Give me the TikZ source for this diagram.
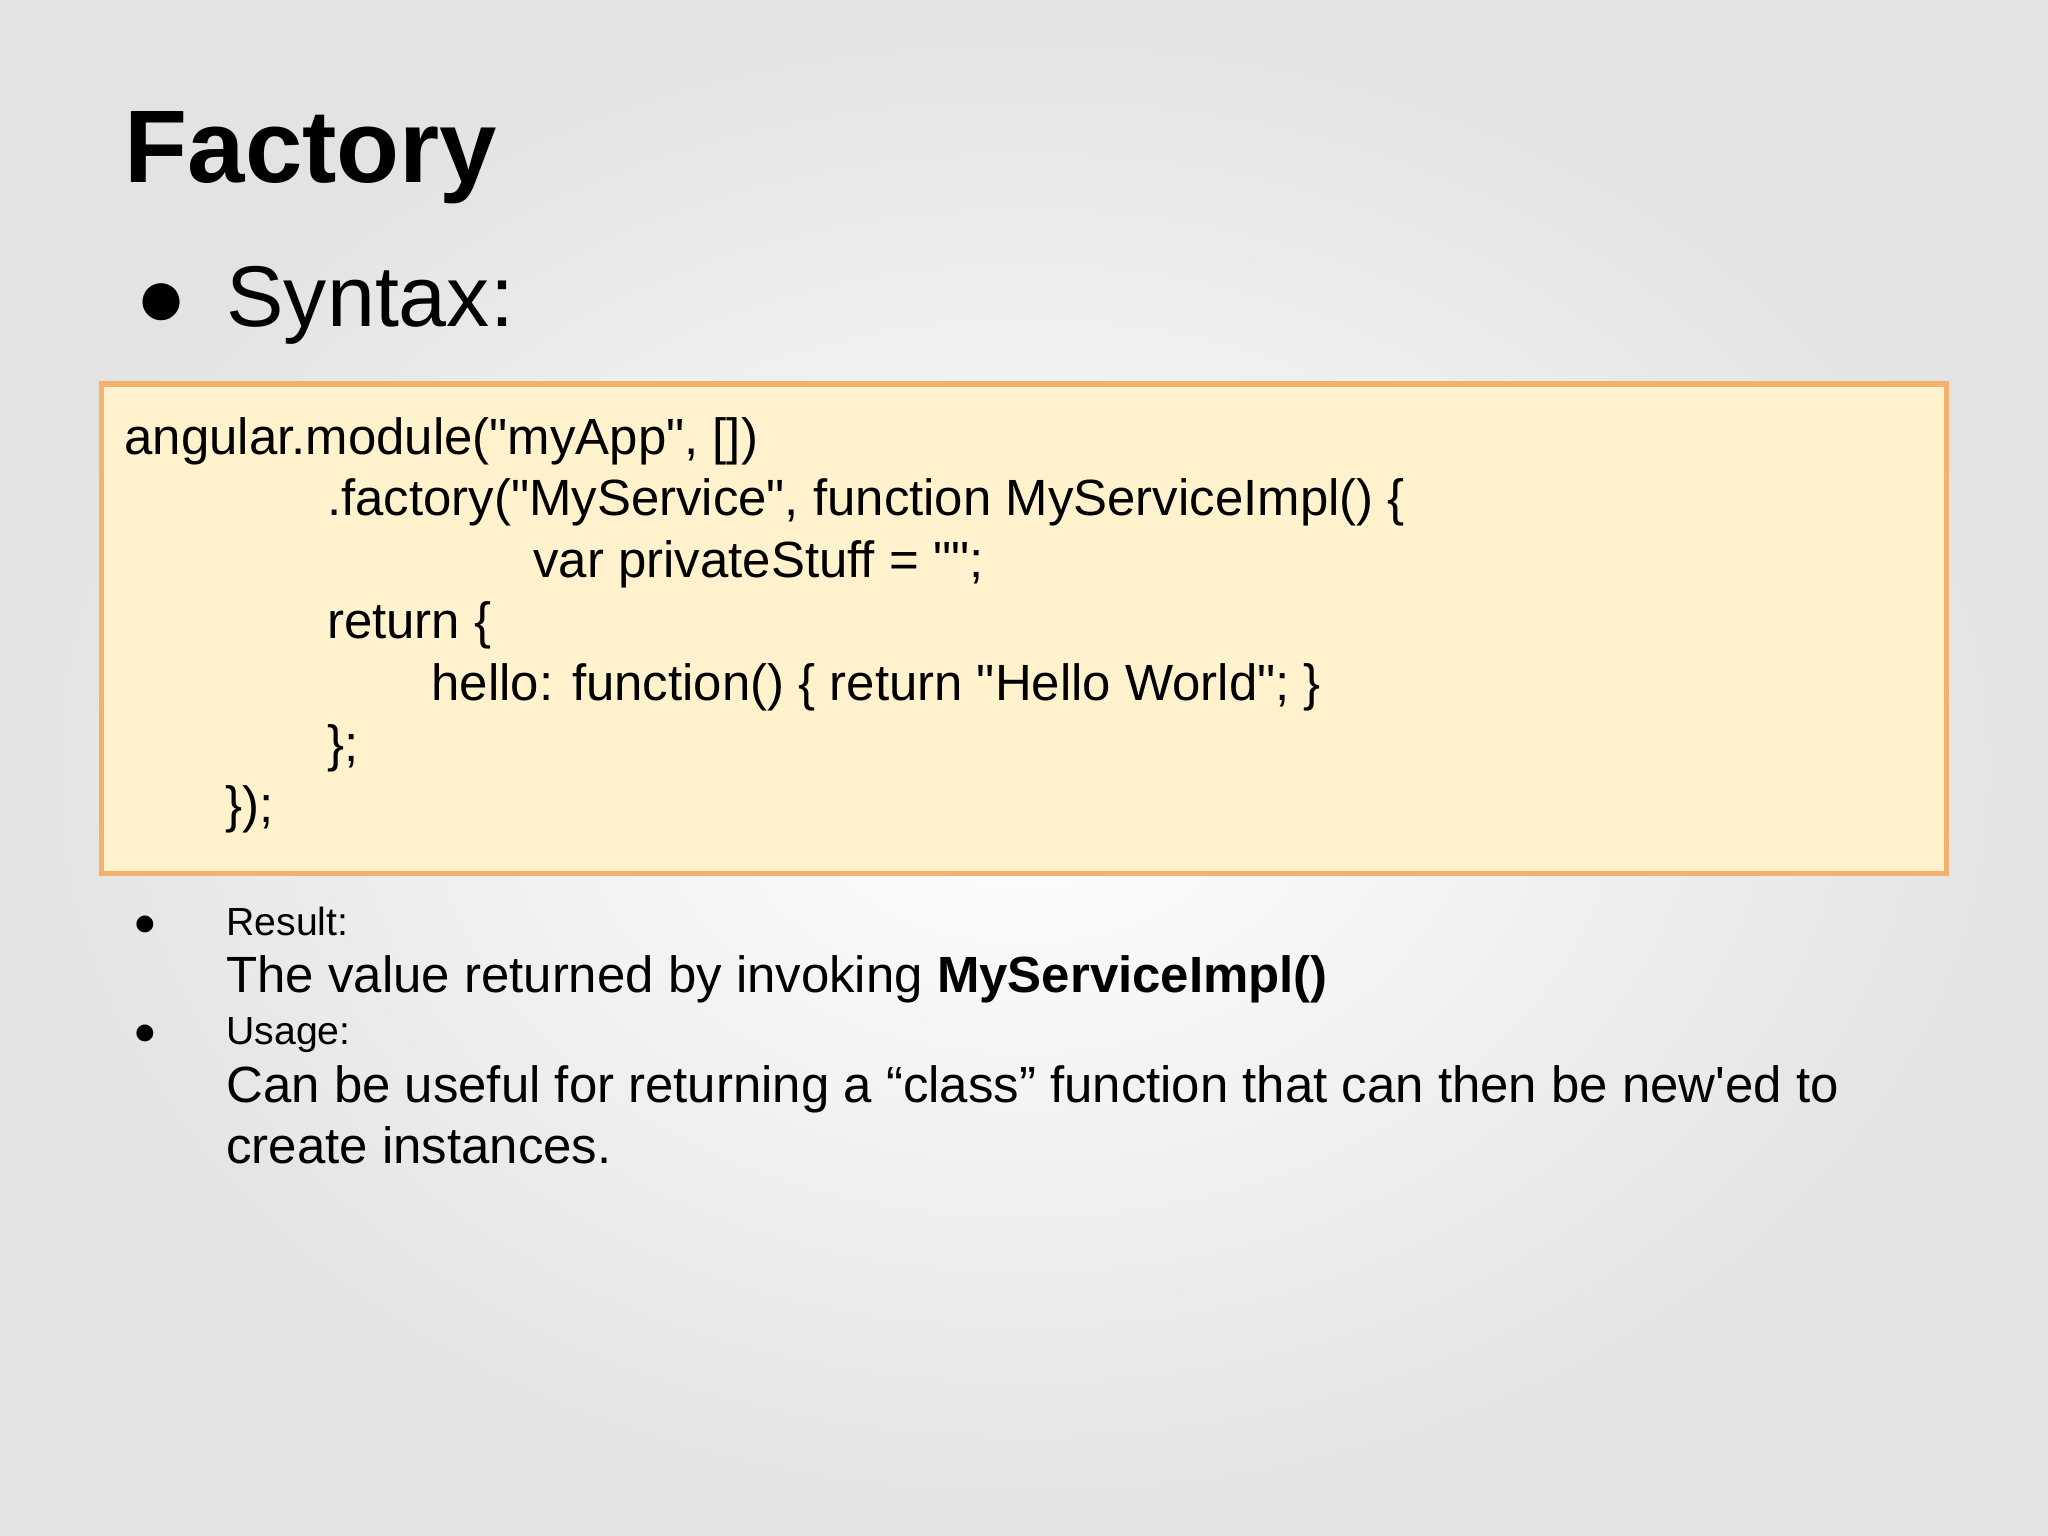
\documentclass[tikz,border=0pt]{standalone}
\usepackage{fontspec}
\setmainfont{Liberation Sans}[Ligatures=TeXOff]
\definecolor{boxfill}{HTML}{FFF2CC}
\definecolor{boxline}{HTML}{F4B16B}
\newcommand\dq{\char"22\relax}
\newcommand\sq{\char"27\relax}
\begin{document}
\begin{tikzpicture}[x=0.5pt,y=-0.5pt,
  txt/.style={anchor=base west,inner sep=0pt},
  code/.style={txt,font=\fontsize{19.5}{22}\selectfont},
  small/.style={txt,font=\fontsize{15}{18}\selectfont},
  mid/.style={txt,font=\fontsize{19.5}{22}\selectfont}]
\shade[inner color=white,outer color=gray!22] (0,0) rectangle (1568,1176);
\useasboundingbox (0,0) rectangle (1568,1176);
\node[txt,font=\bfseries\fontsize{39.5}{48}\selectfont] (title) at (95,140) {Factory};
\node[txt,font=\fontsize{33}{40}\selectfont] (b1) at (103,250) {●};
\node[txt,font=\fontsize{33}{40}\selectfont] (syn) at (173,250) {Syntax:};
\draw[boxline,line width=2pt,fill=boxfill] (78,294) rectangle (1490,669);
\node[code] (c1) at (95,348) {angular.module(\dq myApp\dq, [])};
\node[code] (c2) at (250,395) {.factory(\dq MyService\dq, function MyServiceImpl() \{};
\node[code] (c3) at (408,442) {var privateStuff = \dq\dq;};
\node[code] (c4) at (250,489) {return \{};
\node[code] (c5) at (330,536) {hello: function() \{ return \dq Hello World\dq; \}};
\node[code] (c6) at (250,583) {\};};
\node[code] (c7) at (172,630) {\});};
\node[small] (r0) at (102,716) {●};
\node[small] (r1) at (173,716) {Result:};
\node[mid] (r2) at (173,760) {The value returned by invoking \textbf{MyServiceImpl()}};
\node[small] (u0) at (102,800) {●};
\node[small] (u1) at (173,800) {Usage:};
\node[mid] (u2) at (173,844) {Can be useful for returning a “class” function that can then be new\sq ed to};
\node[mid] (u3) at (173,891) {create instances.};
\end{tikzpicture}
\end{document}
